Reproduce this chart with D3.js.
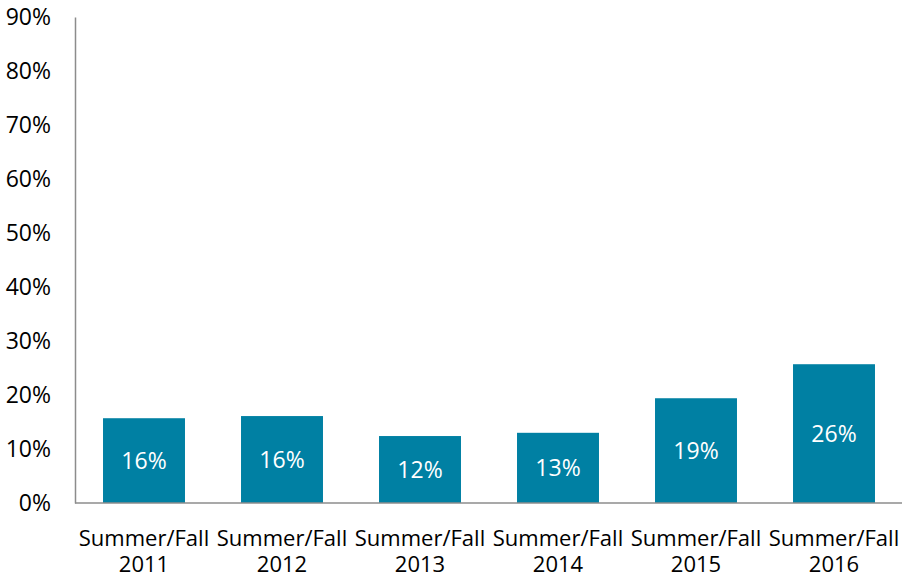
<!DOCTYPE html>
<html>
<head>
<meta charset="utf-8">
<script src="https://cdn.jsdelivr.net/npm/d3@7"></script>
<style>
  body { margin: 0; background: #fff; }
  svg text { font-family: "Open Sans", sans-serif; }
</style>
</head>
<body>
<div id="chart"></div>
<script>
// chart data
var categories = ['Summer/Fall 2011', 'Summer/Fall 2012', 'Summer/Fall 2013',
                  'Summer/Fall 2014', 'Summer/Fall 2015', 'Summer/Fall 2016'];
var values = [15.7, 16.1, 12.4, 13.0, 19.4, 25.7];
var labels = ['16%', '16%', '12%', '13%', '19%', '26%'];
var yTicks = [0, 10, 20, 30, 40, 50, 60, 70, 80, 90];

var width = 902, height = 579;
var plotLeft = 75, plotRight = 903, plotTop = 17, plotBottom = 503;

var svg = d3.select('#chart').append('svg')
    .attr('width', width)
    .attr('height', height);

var x = d3.scaleBand().domain(categories).range([plotLeft, plotRight]).paddingInner(0.406).paddingOuter(0.203);
var y = d3.scaleLinear().domain([0, 90]).range([plotBottom, plotTop]);

// bars
svg.append('g').selectAll('rect')
    .data(values)
    .enter().append('rect')
    .attr('x', function(d, i) { return x(categories[i]); })
    .attr('y', function(d) { return y(d); })
    .attr('width', x.bandwidth())
    .attr('height', function(d) { return plotBottom - y(d); })
    .attr('fill', '#0080A3');

// labels inside bars
svg.append('g').selectAll('text')
    .data(values)
    .enter().append('text')
    .attr('x', function(d, i) { return x(categories[i]) + x.bandwidth() / 2; })
    .attr('y', function(d) { return (y(d) + plotBottom) / 2; })
    .attr('dy', '0.35em')
    .attr('text-anchor', 'middle')
    .attr('fill', '#fff')
    .style('font-size', '23px')
    .text(function(d, i) { return labels[i]; });

// y axis
var yAxis = d3.axisLeft(y).tickValues(yTicks).tickSize(0).tickPadding(24)
    .tickFormat(function(d) { return d + '%'; });
var gy = svg.append('g').attr('transform', 'translate(' + plotLeft + ',0)').call(yAxis);
gy.select('.domain').attr('stroke', '#8c8c8c').attr('stroke-width', 1.5);
gy.selectAll('text').style('font-size', '23px').style('font-family', '"Open Sans", sans-serif').attr('fill', '#000');

// x axis
var gx = svg.append('g').attr('transform', 'translate(0,' + plotBottom + ')');
gx.append('line').attr('x1', plotLeft).attr('x2', width).attr('stroke', '#8c8c8c').attr('stroke-width', 1.5);
gx.selectAll('text')
    .data(categories)
    .enter().append('text')
    .attr('text-anchor', 'middle')
    .attr('fill', '#000')
    .style('font-size', '22px')
    .each(function(d) {
        var t = d3.select(this);
        var cx = x(d) + x.bandwidth() / 2;
        var parts = d.split(' ');
        t.append('tspan').attr('x', cx).attr('y', 43).text(parts[0]);
        t.append('tspan').attr('x', cx).attr('y', 69).text(parts[1]);
    });
</script>
</body>
</html>
